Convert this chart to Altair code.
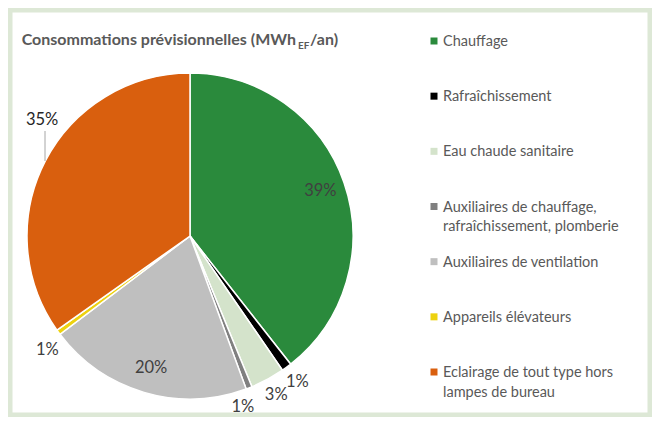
import altair as alt
import pandas as pd

categories = [
    "Chauffage",
    "Rafraîchissement",
    "Eau chaude sanitaire",
    "Auxiliaires de chauffage, rafraîchissement, plomberie",
    "Auxiliaires de ventilation",
    "Appareils élévateurs",
    "Eclairage de tout type hors lampes de bureau",
]
legend_labels = [
    "Chauffage",
    "Rafraîchissement",
    "Eau chaude sanitaire",
    "Auxiliaires de chauffage,\nrafraîchissement, plomberie",
    "Auxiliaires de ventilation",
    "Appareils élévateurs",
    "Eclairage de tout type hors\nlampes de bureau",
]
values = [39.4, 1.0, 3.4, 0.6, 20.3, 0.5, 34.8]
pct_labels = ["39%", "1%", "3%", "1%", "20%", "1%", "35%"]
colors = ["#2a8a3c", "#000000", "#d4e3cb", "#808080", "#bfbfbf", "#edd20f", "#d95f0e"]

title_main = "Consommations prévisionnelles (MWh"
title_sub = "EF"
title_end = "/an)"

df = pd.DataFrame({
    "idx": list(range(len(categories))),
    "cat": categories,
    "leg": legend_labels,
    "value": values,
    "pct": pct_labels,
})

base = alt.Chart(df)
CX, CY, R = 182, 228, 163

theta = alt.Theta("value:Q", stack=True)
order = alt.Order("idx:Q")
color = alt.Color("cat:N", scale=alt.Scale(domain=categories, range=colors), legend=None)

pie = base.mark_arc(outerRadius=R, stroke="white", strokeWidth=1.5).encode(
    theta=theta, color=color, order=order, x=alt.value(CX), y=alt.value(CY)
)


def pie_label(names, radius, dx=0, dy=0, col="#404040"):
    return base.mark_text(
        radius=radius, dx=dx, dy=dy, font="Lato", fontSize=16.5, color=col
    ).encode(
        theta=theta,
        order=order,
        detail="cat:N",
        text=alt.condition(
            alt.FieldOneOfPredicate(field="cat", oneOf=names),
            alt.Text("pct:N"),
            alt.value(""),
        ),
        x=alt.value(CX),
        y=alt.value(CY),
    )


lab_in = pie_label([categories[0], categories[4]], 138)
lab_out = pie_label([categories[1], categories[2]], 181)
lab_aux = pie_label([categories[3]], 179, dx=-12, dy=4)
lab_app = pie_label([categories[5]], 183, dx=5, dy=6)
lab_ecl = pie_label([categories[6]], 180, dx=12, dy=-33, col="#262626")

one = alt.Chart(pd.DataFrame({"a": [title_main], "b": [title_sub], "c": [title_end]}))
leader = one.mark_rule(color="#a6a6a6", strokeWidth=1).encode(
    x=alt.value(37), y=alt.value(123), y2=alt.value(153)
)

t1 = one.mark_text(align="right", baseline="alphabetic", font="Lato", fontSize=16,
                   fontWeight="bold", color="#595959").encode(
    x=alt.value(288), y=alt.value(37), text="a:N")
t2 = one.mark_text(align="left", baseline="alphabetic", font="Lato", fontSize=10,
                   fontWeight="bold", color="#595959").encode(
    x=alt.value(290), y=alt.value(41), text="b:N")
t3 = one.mark_text(align="left", baseline="alphabetic", font="Lato", fontSize=16,
                   fontWeight="bold", color="#595959").encode(
    x=alt.value(302), y=alt.value(37), text="c:N")

yleg = alt.Y("cat:N", scale=alt.Scale(type="point", domain=categories, range=[33, 364], padding=0), axis=None)

leg_sq = base.mark_square(size=49, opacity=1).encode(
    x=alt.value(426), y=yleg, color=color
)
leg_txt = base.mark_text(align="left", baseline="alphabetic", dy=5, lineBreak="\n",
                         lineHeight=19.5, font="Lato", fontSize=14.5, color="#595959").encode(
    x=alt.value(435), y=yleg, text="leg:N"
)

chart = alt.layer(
    pie, lab_in, lab_out, lab_aux, lab_app, lab_ecl, leader, t1, t2, t3, leg_sq, leg_txt
).properties(
    width=644, height=409, autosize=alt.AutoSizeParams(type="none"), padding=0,
    background="white",
).configure_view(stroke="#dde8d6", strokeWidth=9)

chart.save("out.html", embed_options={"renderer": "svg", "actions": False})
